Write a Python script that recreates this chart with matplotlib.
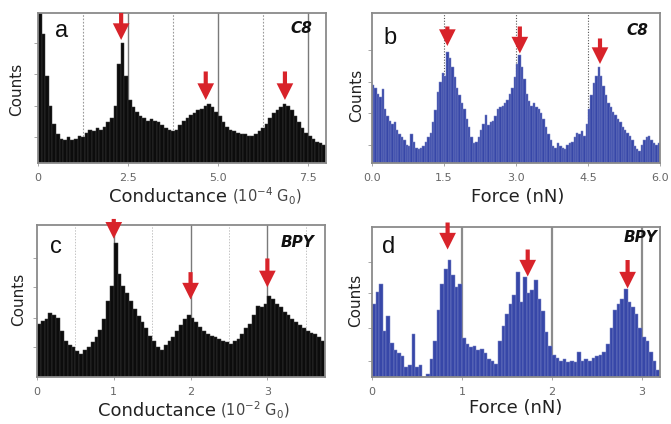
import numpy as np
import matplotlib.pyplot as plt

# Histogram heights in percent of full scale, one value per bin
c8_cond = [100, 86, 58, 38, 26, 19, 16, 15, 17, 15,
           16, 18, 17, 20, 22, 21, 23, 22, 24, 27,
           30, 38, 66, 80, 58, 42, 37, 34, 31, 30,
           28, 29, 28, 27, 25, 23, 22, 21, 22, 25,
           28, 30, 32, 33, 35, 36, 38, 39, 37, 34,
           31, 27, 24, 22, 21, 20, 19, 19, 18, 18,
           19, 21, 23, 26, 30, 33, 35, 37, 39, 38,
           35, 31, 27, 23, 20, 18, 16, 14, 13, 12]
c8_cond_bin = 0.1

c8_force = [52, 50, 46, 44, 49, 36, 31, 28, 26, 27,
            22, 19, 17, 15, 12, 11, 19, 14, 10, 9,
            10, 11, 14, 17, 20, 27, 35, 47, 54, 60,
            58, 74, 70, 64, 57, 50, 45, 40, 36, 29,
            24, 17, 13, 14, 17, 22, 26, 32, 25, 27,
            28, 31, 36, 37, 38, 40, 42, 46, 50, 57,
            66, 72, 64, 56, 46, 41, 38, 40, 37, 36,
            33, 29, 24, 19, 15, 11, 10, 13, 11, 10,
            9, 12, 13, 14, 17, 20, 19, 21, 18, 26,
            36, 45, 53, 58, 64, 58, 51, 45, 40, 37,
            34, 32, 29, 27, 24, 22, 20, 18, 15, 11,
            9, 8, 12, 15, 17, 18, 15, 13, 12, 13]
c8_force_bin = 0.05

bpy_cond = [35, 37, 38, 42, 41, 39, 30, 24, 21, 20,
            17, 15, 18, 20, 23, 26, 31, 38, 50, 60,
            88, 68, 60, 55, 50, 45, 40, 36, 32, 27,
            24, 20, 18, 21, 24, 26, 30, 34, 38, 41,
            39, 36, 33, 30, 28, 27, 26, 25, 24, 23,
            22, 24, 25, 28, 32, 35, 41, 47, 46, 48,
            53, 51, 48, 46, 43, 41, 38, 36, 34, 32,
            30, 29, 28, 26, 24]
bpy_cond_bin = 0.05

bpy_force = [49, 57, 62, 31, 41, 23, 18, 16, 14, 7,
             8, 29, 7, 8, 0, 2, 12, 24, 45, 62,
             72, 78, 68, 60, 62, 26, 22, 20, 21, 18,
             19, 16, 12, 11, 9, 24, 34, 42, 49, 55,
             70, 50, 67, 56, 58, 65, 52, 44, 30, 21,
             15, 13, 11, 12, 10, 11, 10, 17, 11, 12,
             11, 13, 14, 15, 17, 22, 33, 45, 49, 52,
             59, 50, 47, 42, 33, 27, 24, 17, 11, 5]
bpy_force_bin = 0.04

# Peak markers: (position, arrow start, arrow tip)
c8_cond_peaks = [(2.31, 100, 82), (4.66, 61, 42), (6.86, 61, 42)]
c8_force_peaks = [(1.57, 91, 78), (3.08, 91, 73), (4.75, 83, 66)]
bpy_cond_peaks = [(1.0, 104, 91), (2.0, 69, 51), (3.0, 78, 59)]
bpy_force_peaks = [(0.84, 103, 85), (1.73, 85, 67), (2.84, 78, 59)]

BLACK = '#0c0c0c'
BLUE = '#3747a8'
RED = '#d8232a'
SPINE = '#8a8a8a'

fig = plt.figure(figsize=(6.71, 4.24), dpi=100)
ax_a = fig.add_axes([0.0566, 0.6156, 0.4292, 0.3538])
ax_b = fig.add_axes([0.5544, 0.6156, 0.4292, 0.3538])
ax_c = fig.add_axes([0.0551, 0.1108, 0.4292, 0.3585])
ax_d = fig.add_axes([0.5544, 0.1108, 0.4292, 0.3538])


def draw_hist(ax, heights, width, face, edge):
    heights = np.asarray(heights, dtype=float)
    left = np.arange(len(heights)) * width
    ax.bar(left, heights, width=width, align='edge', color=face,
           edgecolor=edge, linewidth=0.35, zorder=2)
    ax.set_xlim(0, len(heights) * width)
    ax.set_ylim(0, 100)


def style(ax, xticks, xticklabels, yticks):
    for s in ax.spines.values():
        s.set_color(SPINE)
        s.set_linewidth(1.3)
    ax.set_xticks(xticks)
    ax.set_xticklabels(xticklabels)
    ax.set_yticks(yticks)
    ax.set_yticklabels([])
    ax.tick_params(axis='x', length=2, width=0.6, color='#999999',
                   labelsize=8, labelcolor='#666666', pad=5)
    ax.tick_params(axis='y', length=3, width=0.6, color='#999999')


def arrows(ax, peaks):
    for x, top, tip in peaks:
        ax.annotate('', xy=(x, tip), xytext=(x, top), annotation_clip=False,
                    arrowprops=dict(arrowstyle='simple,head_length=1.0,head_width=1.0,tail_width=0.25',
                                    mutation_scale=12, color=RED, lw=0,
                                    shrinkA=0, shrinkB=0), zorder=5)


def labels(ax, letter, lpos, tag, tpos, ylab_pos):
    ax.text(lpos[0], lpos[1], letter, transform=ax.transAxes, fontsize=17,
            family='Liberation Sans', color='#111111', va='baseline', ha='left')
    ax.text(tpos[0], tpos[1], tag, transform=ax.transAxes, fontsize=11,
            fontweight='bold', fontstyle='italic', color='#111111',
            va='baseline', ha='right')
    ax.text(ylab_pos[0], ylab_pos[1], 'Counts', transform=ax.transAxes,
            rotation=90, fontsize=11, color='#222222', ha='center', va='center')


# a: C8 conductance
draw_hist(ax_a, c8_cond, c8_cond_bin, BLACK, '#3a3a3a')
for v in [1.25, 3.75, 6.25]:
    ax_a.axvline(v, color='#9a9a9a', lw=0.8, ls=(0, (1.5, 1.5)), zorder=1)
for v in [2.5, 5.0, 7.5]:
    ax_a.axvline(v, color='#7a7a7a', lw=1.0, zorder=1)
style(ax_a, [0, 2.5, 5.0, 7.5], ['0', '2.5', '5.0', '7.5'], [17, 38, 59, 80])
arrows(ax_a, c8_cond_peaks)
labels(ax_a, 'a', (0.06, 0.84), 'C8', (0.951, 0.867), (-0.073, 0.49))
ax_a.text(0.655, -0.26, 'Conductance', transform=ax_a.transAxes, fontsize=13,
          color='#222222', ha='right', va='baseline')
ax_a.text(0.675, -0.26, r'(10$^{-4}$ G$_0$)', transform=ax_a.transAxes,
          fontsize=10.5, color='#444444', ha='left', va='baseline')

# b: C8 force
draw_hist(ax_b, c8_force, c8_force_bin, BLUE, '#7b85c6')
for v in [1.5, 3.0, 4.5]:
    ax_b.axvline(v, color='#555555', lw=0.8, ls=(0, (1, 1.5)), zorder=1)
style(ax_b, [0, 1.5, 3.0, 4.5, 6.0], ['0.0', '1.5', '3.0', '4.5', '6.0'],
      [12, 33, 54, 75])
arrows(ax_b, c8_force_peaks)
labels(ax_b, 'b', (0.04, 0.79), 'C8', (0.958, 0.853), (-0.054, 0.45))
ax_b.text(0.507, -0.26, 'Force (nN)', transform=ax_b.transAxes, fontsize=13,
          color='#222222', ha='center', va='baseline')

# c: BPY conductance
draw_hist(ax_c, bpy_cond, bpy_cond_bin, BLACK, '#3a3a3a')
for v in [0.5, 1.5, 2.5, 3.5]:
    ax_c.axvline(v, color='#c4c4c4', lw=0.7, ls=(0, (1.5, 1.5)), zorder=1)
for v in [1.0, 2.0, 3.0]:
    ax_c.axvline(v, color='#7a7a7a', lw=1.0, zorder=1)
style(ax_c, [0, 1, 2, 3], ['0', '1', '2', '3'], [20, 39, 59, 78])
arrows(ax_c, bpy_cond_peaks)
labels(ax_c, 'c', (0.045, 0.816), 'BPY', (0.965, 0.855), (-0.064, 0.51))
ax_c.text(0.62, -0.257, 'Conductance', transform=ax_c.transAxes, fontsize=13,
          color='#222222', ha='right', va='baseline')
ax_c.text(0.635, -0.257, r'(10$^{-2}$ G$_0$)', transform=ax_c.transAxes,
          fontsize=10.5, color='#444444', ha='left', va='baseline')

# d: BPY force
draw_hist(ax_d, bpy_force, bpy_force_bin, BLUE, '#7b85c6')
for v in [1.0, 2.0, 3.0]:
    ax_d.axvline(v, color='#8c8c8c', lw=1.6, zorder=1)
style(ax_d, [0, 1, 2, 3], ['0', '1', '2', '3'], [11, 33, 56, 77])
arrows(ax_d, bpy_force_peaks)
labels(ax_d, 'd', (0.035, 0.827), 'BPY', (0.99, 0.9), (-0.057, 0.51))
ax_d.text(0.5, -0.24, 'Force (nN)', transform=ax_d.transAxes, fontsize=13,
          color='#222222', ha='center', va='baseline')

fig.savefig('out.png', dpi=100, facecolor='white')
